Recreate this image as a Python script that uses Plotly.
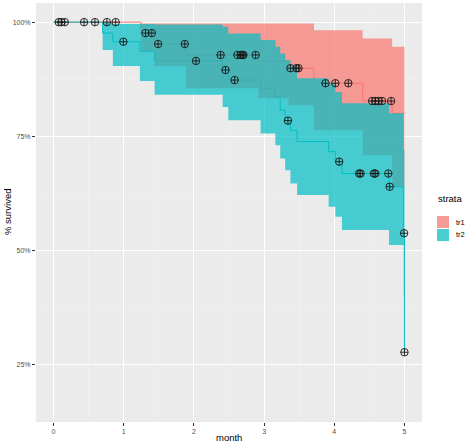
import plotly.graph_objects as go

# ---- data (time in months, survival in %) ----
tr1_time  = [0, 1.245, 1.44, 1.89, 2.92, 3.35, 3.71, 4.405, 4.825, 5.0]
tr1_surv  = [100, 97.6, 95.2, 92.8, 91.4, 89.9, 86.6, 82.7, 80.0, 80.0]
tr1_lower = [100, 93.6, 90.4, 85.5, 83.3, 81.8, 76.3, 70.8, 63.9, 63.9]
tr1_upper = [100, 99.7, 99.7, 99.7, 99.7, 99.7, 98.2, 96.4, 94.6, 94.6]

tr2_time  = [0, 0.70, 0.845, 1.23, 1.44, 2.41, 2.49, 2.95, 3.16, 3.23, 3.30, 3.375,
             3.47, 3.92, 4.015, 4.11, 4.78, 4.99, 5.0]
tr2_surv  = [100, 97.6, 95.7, 93.6, 91.5, 89.5, 87.3, 85.5, 83.6, 80.7, 78.4, 76.3,
             73.8, 71.6, 69.4, 66.8, 63.9, 53.7, 27.6]
tr2_lower = [100, 93.9, 90.4, 87.1, 84.1, 81.4, 78.5, 75.6, 73.0, 70.1, 67.5, 64.6,
             62.1, 59.5, 57.3, 54.4, 51.1, 40.0, 17.0]
tr2_upper = [100, 99.8, 99.6, 99.6, 99.5, 99.0, 97.5, 96.1, 94.6, 93.1, 91.7, 90.5,
             87.7, 86.6, 84.7, 82.2, 80.0, 72.0, 45.0]

tr1_cens_time = [0.075, 0.11, 0.16, 0.435, 0.59, 0.76, 0.885, 1.31, 1.40, 1.49, 1.87,
                 2.38, 2.62, 2.67, 2.69, 2.705, 2.88, 3.375, 3.46, 3.49, 3.875, 4.015,
                 4.20, 4.54, 4.585, 4.63, 4.68, 4.81]
tr1_cens_surv = [100, 100, 100, 100, 100, 100, 100, 97.6, 97.6, 95.2, 95.2,
                 92.8, 92.8, 92.8, 92.8, 92.8, 92.8, 89.9, 89.9, 89.9, 86.6, 86.6,
                 86.6, 82.7, 82.7, 82.7, 82.7, 82.7]

tr2_cens_time = [0.995, 2.03, 2.45, 2.58, 3.34, 4.07, 4.355, 4.375, 4.565, 4.585,
                 4.77, 4.79, 4.995, 5.0]
tr2_cens_surv = [95.7, 91.5, 89.5, 87.3, 78.4, 69.4, 66.8, 66.8, 66.8, 66.8,
                 66.8, 63.9, 53.7, 27.6]

strata_names = ["tr1", "tr2"]
line_colors = ["#F8766D", "#00BFC4"]
fill_colors = ["rgba(248,118,109,0.7)", "rgba(0,191,196,0.7)"]
key_colors = ["rgb(246,155,149)", "rgb(73,206,210)"]

y_ticks = [25, 50, 75, 100]
y_tick_labels = ["25%", "50%", "75%", "100%"]
x_ticks = [0, 1, 2, 3, 4, 5]

W, H = 474, 448
ML, MR, MT, MB = 36, 52, 3, 26
PW, PH = W - ML - MR, H - MT - MB


def px_x(px):
    return (px - ML) / PW


def px_y(py):
    return (H - MB - py) / PH


fig = go.Figure()

series = [
    (tr1_time, tr1_surv, tr1_lower, tr1_upper),
    (tr2_time, tr2_surv, tr2_lower, tr2_upper),
]

# survival step lines (beneath the ribbons, as in the reference)
for (t, s, lo, up), lc in zip(series, line_colors):
    fig.add_trace(go.Scatter(x=t, y=s, mode="lines", line=dict(color=lc, width=1, shape="hv"),
                             showlegend=False, hoverinfo="skip"))

# confidence ribbons
for (t, s, lo, up), name, fc in zip(series, strata_names, fill_colors):
    fig.add_trace(go.Scatter(x=t, y=up, mode="lines", line=dict(width=0, shape="hv", color=fc),
                             showlegend=False, hoverinfo="skip"))
    fig.add_trace(go.Scatter(x=t, y=lo, mode="lines", line=dict(width=0, shape="hv", color=fc),
                             fill="tonexty", fillcolor=fc, name=name, showlegend=False))

# censor marks
for ct, cs in [(tr1_cens_time, tr1_cens_surv), (tr2_cens_time, tr2_cens_surv)]:
    fig.add_trace(go.Scatter(x=ct, y=cs, mode="markers",
                             marker=dict(symbol="circle-cross-open", size=7.5,
                                         color="rgba(25,25,25,0.9)", line=dict(width=1)),
                             showlegend=False, hoverinfo="skip"))

axis_common = dict(
    showgrid=True, gridcolor="white", gridwidth=1,
    zeroline=False, showline=False, automargin=False,
    ticks="outside", ticklen=3, tickcolor="#333333", tickwidth=1,
    tickfont=dict(family="Liberation Sans, Arial, sans-serif", size=7, color="#4D4D4D"),
)

font_fam = "Liberation Sans, Arial, sans-serif"
annotations = [
    dict(text="month", x=0.5, y=px_y(438), xref="paper", yref="paper", showarrow=False,
         xanchor="center", yanchor="middle", font=dict(size=9.5, color="black", family=font_fam)),
    dict(text="% survived", x=px_x(7), y=px_y(212), xref="paper", yref="paper", showarrow=False,
         textangle=-90, xanchor="center", yanchor="middle",
         font=dict(size=9.5, color="black", family=font_fam)),
    dict(text="strata", x=px_x(436), y=px_y(198), xref="paper", yref="paper", showarrow=False,
         xanchor="left", yanchor="middle", font=dict(size=9.5, color="black", family=font_fam)),
]
shapes = []
key_tops = [216, 229]
for name, kc, top in zip(strata_names, key_colors, key_tops):
    shapes.append(dict(type="rect", xref="paper", yref="paper",
                       x0=px_x(437), x1=px_x(449), y0=px_y(top), y1=px_y(top + 12),
                       fillcolor=kc, line=dict(width=0)))
    annotations.append(dict(text=name, x=px_x(454), y=px_y(top + 6), xref="paper", yref="paper",
                            showarrow=False, xanchor="left", yanchor="middle",
                            font=dict(size=7.5, color="black", family=font_fam)))

fig.update_layout(
    width=W, height=H,
    margin=dict(l=ML, r=MR, t=MT, b=MB),
    paper_bgcolor="white", plot_bgcolor="#EBEBEB",
    font=dict(family=font_fam, color="black"),
    showlegend=False,
    xaxis=dict(range=[-0.25, 5.25], tickvals=x_ticks, ticktext=[str(v) for v in x_ticks],
               minor=dict(dtick=0.5, tick0=0, showgrid=True, gridcolor="#F4F4F4",
                          gridwidth=0.5, ticks=""),
               **axis_common),
    yaxis=dict(range=[12.3, 104.2], tickvals=y_ticks, ticktext=y_tick_labels,
               minor=dict(dtick=12.5, tick0=0, showgrid=True, gridcolor="#F4F4F4",
                          gridwidth=0.5, ticks=""),
               **axis_common),
    annotations=annotations,
    shapes=shapes,
)

fig.write_html(
    "out.html",
    config={"displayModeBar": False, "staticPlot": True},
    post_script="document.body.style.margin='0';document.body.style.overflow='hidden';",
)
